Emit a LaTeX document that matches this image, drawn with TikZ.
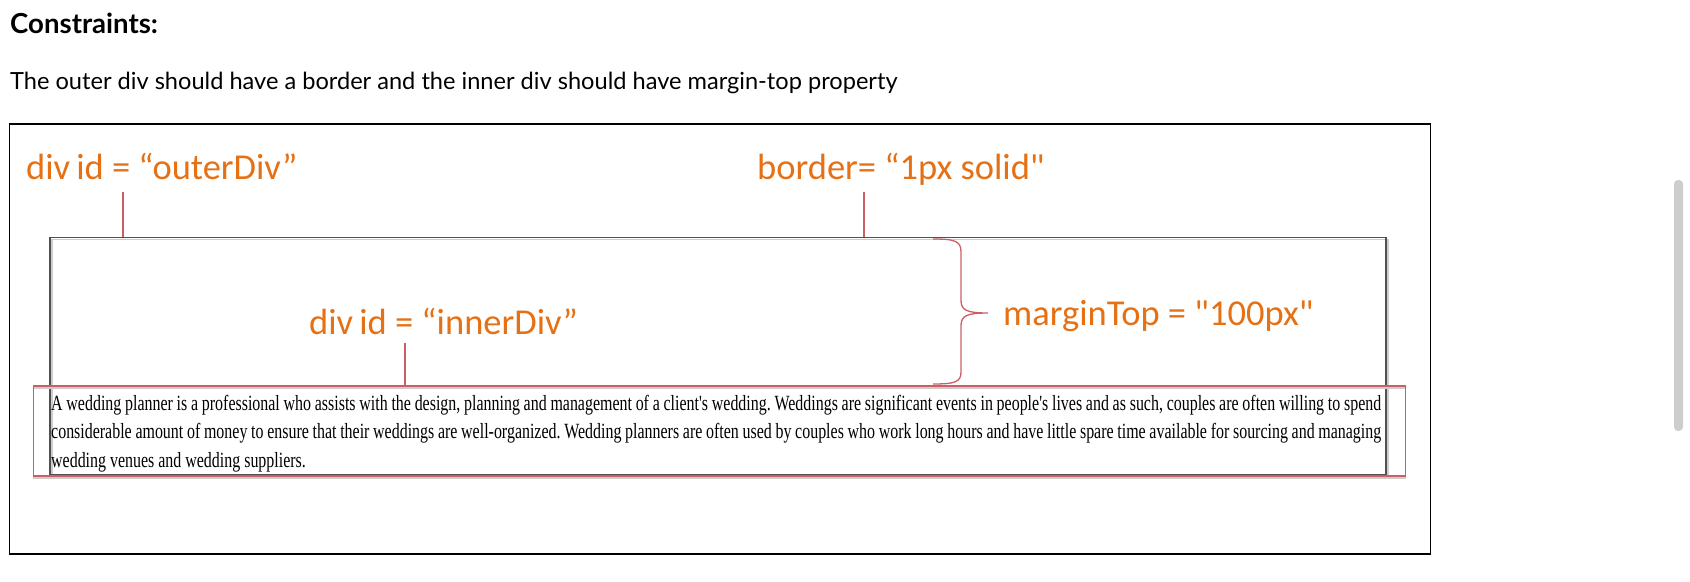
\documentclass[tikz,border=0pt]{standalone}
\usepackage{fontspec}
\usetikzlibrary{shadows}
\setmainfont{Lato}
\newfontfamily\calloutfont{Carlito}
\newfontfamily\bodyfont[FakeStretch=0.735]{Liberation Serif}
\definecolor{calloutorange}{RGB}{230,112,20}
\definecolor{pinred}{RGB}{205,95,100}
\definecolor{boxgrey}{RGB}{80,80,80}
\definecolor{shadowgrey}{RGB}{205,205,205}
\definecolor{bargrey}{RGB}{205,205,205}

\tikzset{
  callout/.style={font=\calloutfont\fontsize{36.5bp}{42bp}\selectfont, text=calloutorange, inner sep=0, anchor=base west},
  pin/.style={draw=pinred, line width=1.3bp},
  divbox/.style={draw=boxgrey, line width=1.5bp, inner sep=0,
    drop shadow={fill=none, draw=shadowgrey, opacity=1, shadow xshift=2bp, shadow yshift=-2bp}},
}

\begin{document}
\begin{tikzpicture}[x=1bp,y=-1bp]
\useasboundingbox (0,0) rectangle (1690,582);

% heading and task
\node[font=\bfseries\fontsize{27.6bp}{32bp}\selectfont, inner sep=0, anchor=base west] (title) at (10,34) {Constraints:};
\node[font=\fontsize{23.6bp}{28bp}\selectfont, inner sep=0, anchor=base west] (task) at (10,90) {The outer div should have a border and the inner div should have margin-top property};

% screenshot frame
\node[draw, line width=1.3bp, inner sep=0, minimum width=1421bp, minimum height=430bp] (page) at (720,339) {};

% outer div with its border
\node[divbox, minimum width=1336bp, minimum height=237bp] (outerdiv) at (718,356) {};
% inner div with the paragraph
\node[draw=pinred, line width=1.3bp, inner sep=0, minimum width=1372bp, minimum height=90bp,
  drop shadow={fill=none, draw=shadowgrey, opacity=1, shadow xshift=0bp, shadow yshift=-2bp}] (innerdiv) at (719.5,431) {};
\node[font=\bodyfont\fontsize{21.7bp}{28.5bp}\selectfont, inner sep=0, anchor=north west,
  text width=1330bp, align=justify] (para) at (51,395)
  {\frenchspacing A wedding planner is a professional who assists with the design, planning and management of a client's wedding. Weddings are significant events in people's lives and as such, couples are often willing to spend\linebreak
   considerable amount of money to ensure that their weddings are well-organized. Wedding planners are often used by couples who work long hours and have little spare time available for sourcing and managing\linebreak
   wedding venues and wedding suppliers.\par};

% labels
\node[callout] (outerlbl) at (26,180) {div\,id = “outerDiv”};
\node[callout] (borderlbl) at (757,180) {border= “1px solid"};
\node[callout] (innerlbl) at (309,334) {div\,id = “innerDiv”};
\node[callout] (marginlbl) at (1003,325) {marginTop = "100px"};

% pins
\coordinate (outertag) at (123,192);
\coordinate (bordertag) at (864,192);
\coordinate (innertag) at (405,343);
\draw[pin] (outertag) -- (outertag |- outerdiv.north);
\draw[pin] (bordertag) -- (bordertag |- outerdiv.north);
\draw[pin] (innertag) -- (innertag |- innerdiv.north);

% brace for the margin
\coordinate (bracetop) at (933,239);
\coordinate (bracebot) at (933,384);
\coordinate (bracetip) at (988,313);
\draw[pin] (bracetop) .. controls (955,239) and (961,241) .. (961,252) -- (961,300)
  .. controls (961,310) and (966,313) .. (bracetip)
  .. controls (966,313) and (961,316) .. (961,326) -- (961,372)
  .. controls (961,382) and (955,384) .. (bracebot);

% scrollbar
\fill[bargrey, rounded corners=4bp] (1674,180) rectangle (1683,431);
\end{tikzpicture}
\end{document}
